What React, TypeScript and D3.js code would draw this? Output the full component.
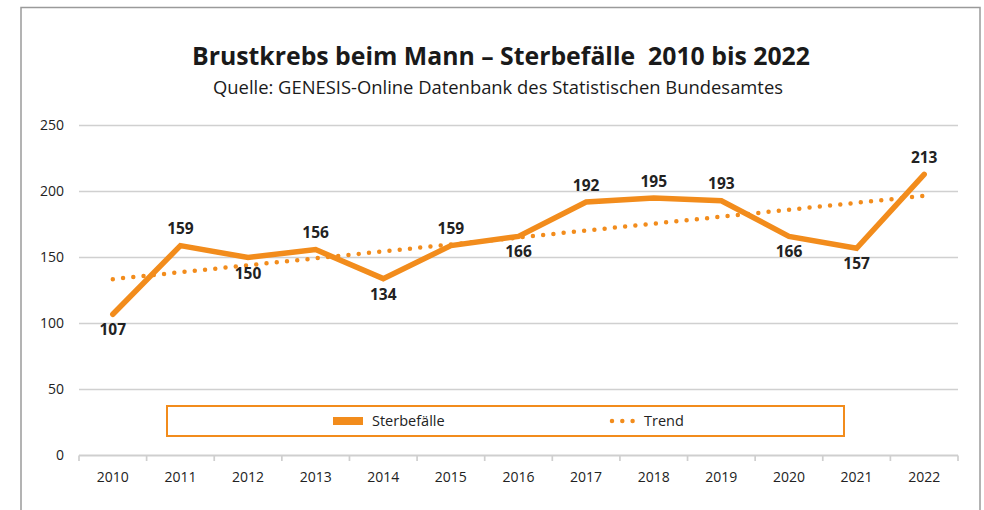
import React from "react";
import * as d3 from "d3";

const years = ["2010","2011","2012","2013","2014","2015","2016","2017","2018","2019","2020","2021","2022"];
const deaths = [107,159,150,156,134,159,166,192,195,193,166,157,213];
const labelBelow = [true,false,true,false,true,false,true,false,false,false,true,true,false];
const trendYears = ["2010","2022"];
const trendValues = [133.6,196.7];
const yTicks = [0,50,100,150,200,250];
const title = "Brustkrebs beim Mann – Sterbefälle\u00A0\u00A02010 bis 2022";
const subtitle = "Quelle: GENESIS-Online Datenbank des Statistischen Bundesamtes";
const legendLabels = ["Sterbefälle","Trend"];

const W = 984, H = 510;
const ORANGE = "#F28C1C";
const FONT = "'Open Sans', 'DejaVu Sans', sans-serif";

export default function App() {
  const x = d3.scaleBand<string>().domain(years).range([79, 958]).padding(0);
  const cx = (yr: string) => (x(yr) as number) + x.bandwidth() / 2;
  const y = d3.scaleLinear().domain([0, 250]).range([455.5, 125.5]);

  const line = d3.line<number>().x((_, i) => cx(years[i])).y(d => y(d));
  const trendLine = d3.line<number>().x((_, i) => cx(trendYears[i])).y(d => y(d));

  return (
    <svg width={W} height={H} style={{ position: "absolute", left: 0, top: 0, display: "block", background: "#fff" }} fontFamily={FONT}>
      <rect x={21} y={7.5} width={959} height={520} fill="#fff" stroke="#9a9a9a" strokeWidth={1.5} />
      <text x={501} y={65} textAnchor="middle" fontSize={25} fontWeight={700} fill="#1a1a1a" textLength={618} lengthAdjust="spacingAndGlyphs">{title}</text>
      <text x={498} y={94} textAnchor="middle" fontSize={18.5} fill="#1a1a1a" textLength={570} lengthAdjust="spacingAndGlyphs">{subtitle}</text>

      {yTicks.map(t => (
        <g key={t}>
          {t > 0 && <line x1={79} x2={958} y1={y(t)} y2={y(t)} stroke="#d0d0d0" strokeWidth={1.7} />}
          <text x={64} y={y(t)} dy="0.35em" textAnchor="end" fontSize={14} fill="#222">{t}</text>
        </g>
      ))}
      <line x1={79} x2={958} y1={y(0)} y2={y(0)} stroke="#cfcfcf" strokeWidth={2} />
      {years.map((yr) => (
        <line key={"t" + yr} x1={x(yr) as number} x2={x(yr) as number} y1={y(0)} y2={y(0) + 5.5} stroke="#cfcfcf" strokeWidth={1.7} />
      ))}
      <line x1={958} x2={958} y1={y(0)} y2={y(0) + 5.5} stroke="#cfcfcf" strokeWidth={1.7} />
      {years.map(yr => (
        <text key={"l" + yr} x={cx(yr)} y={482} textAnchor="middle" fontSize={14} fill="#222">{yr}</text>
      ))}

      <path d={trendLine(trendValues) || ""} fill="none" stroke={ORANGE} strokeWidth={4.5} strokeLinecap="round" strokeDasharray="0 10.3" />
      <path d={line(deaths) || ""} fill="none" stroke={ORANGE} strokeWidth={5.5} strokeLinejoin="miter" strokeLinecap="round" />

      {deaths.map((v, i) => (
        <text key={"d" + i} x={cx(years[i])} y={labelBelow[i] ? y(v) + 21 : y(v) - 11.5} textAnchor="middle" fontSize={15.5} fontWeight={700} fill="#222">{v}</text>
      ))}

      <rect x={167} y={406} width={677} height={30} fill="#fff" stroke={ORANGE} strokeWidth={2} />
      <line x1={333} x2={363} y1={421} y2={421} stroke={ORANGE} strokeWidth={8} />
      <text x={372} y={421} dy="0.35em" fontSize={14.5} fill="#222">{legendLabels[0]}</text>
      <line x1={612} x2={634} y1={421} y2={421} stroke={ORANGE} strokeWidth={4.5} strokeLinecap="round" strokeDasharray="0 10.3" />
      <text x={644} y={421} dy="0.35em" fontSize={14.5} fill="#222">{legendLabels[1]}</text>
    </svg>
  );
}
